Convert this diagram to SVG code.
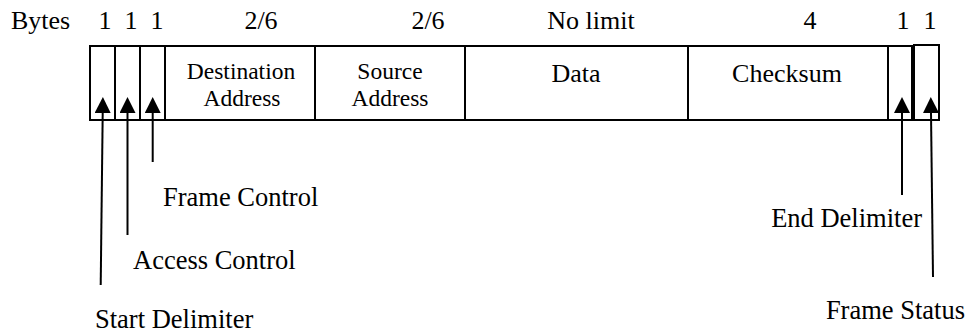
<svg xmlns="http://www.w3.org/2000/svg" width="971" height="335" viewBox="0 0 971 335">
<style>
  text { font-family: 'Liberation Serif', serif; fill: #000; }
  .lbl { font-size: 26.5px; }
  .top { font-size: 26px; }
  .cell-t { font-size: 23.5px; }
  .cell-b { font-size: 26px; }
  .cell { fill: #fff; stroke: #000; stroke-width: 2; }
  .conn { stroke: #000; stroke-width: 2; fill: none; marker-end: url(#arr); }
</style>
<defs>
  <marker id="arr" markerUnits="userSpaceOnUse" markerWidth="16" markerHeight="16" viewBox="0 0 16 16" refX="0" refY="8" orient="auto">
    <path d="M0,0 L16,8 L0,16 z" fill="#000"/>
  </marker>
</defs>
<rect width="971" height="335" fill="#fff"/>

<g id="bytes-label"><text class="top" x="11" y="29">Bytes</text></g>

<g id="start-delimiter">
  <rect class="cell" x="90" y="46" width="25" height="74"/>
  <text class="top" x="105" y="29" text-anchor="middle">1</text>
  <text class="lbl" x="95" y="328">Start Delimiter</text>
</g>
<g id="access-control">
  <rect class="cell" x="115" y="46" width="25" height="74"/>
  <text class="top" x="131" y="29" text-anchor="middle">1</text>
  <text class="lbl" x="133" y="269">Access Control</text>
</g>
<g id="frame-control">
  <rect class="cell" x="140" y="46" width="25" height="74"/>
  <text class="top" x="157" y="29" text-anchor="middle">1</text>
  <text class="lbl" x="163" y="206">Frame Control</text>
</g>
<g id="destination-address">
  <rect class="cell" x="165" y="46" width="150" height="74"/>
  <text class="top" x="261" y="29" text-anchor="middle">2/6</text>
  <text class="cell-t" x="241" y="79" text-anchor="middle">Destination</text>
  <text class="cell-t" x="242" y="106" text-anchor="middle">Address</text>
</g>
<g id="source-address">
  <rect class="cell" x="315" y="46" width="150" height="74"/>
  <text class="top" x="428" y="29" text-anchor="middle">2/6</text>
  <text class="cell-t" x="390" y="79" text-anchor="middle">Source</text>
  <text class="cell-t" x="390" y="106" text-anchor="middle">Address</text>
</g>
<g id="data">
  <rect class="cell" x="465" y="46" width="223" height="74"/>
  <text class="top" x="591" y="29" text-anchor="middle">No limit</text>
  <text class="cell-b" x="576" y="82" text-anchor="middle">Data</text>
</g>
<g id="checksum">
  <rect class="cell" x="688" y="46" width="200" height="74"/>
  <text class="top" x="810" y="29" text-anchor="middle">4</text>
  <text class="cell-b" x="787" y="82" text-anchor="middle">Checksum</text>
</g>
<g id="end-delimiter">
  <rect class="cell" x="888" y="46" width="24" height="74"/>
  <text class="top" x="903" y="29" text-anchor="middle">1</text>
  <text class="lbl" x="922" y="227" text-anchor="end">End Delimiter</text>
</g>
<g id="frame-status">
  <rect class="cell" x="914" y="45" width="25" height="75"/>
  <text class="top" x="930" y="29" text-anchor="middle">1</text>
  <text class="lbl" x="965" y="319" text-anchor="end">Frame Status</text>
</g>

<g id="connectors">
  <line class="conn" x1="100.7" y1="285" x2="102.7" y2="113"/>
  <line class="conn" x1="127.5" y1="235" x2="127.5" y2="113"/>
  <line class="conn" x1="152.7" y1="162" x2="152.7" y2="113"/>
  <line class="conn" x1="902" y1="195" x2="902" y2="113"/>
  <line class="conn" x1="933" y1="277" x2="931" y2="113"/>
</g>
</svg>
